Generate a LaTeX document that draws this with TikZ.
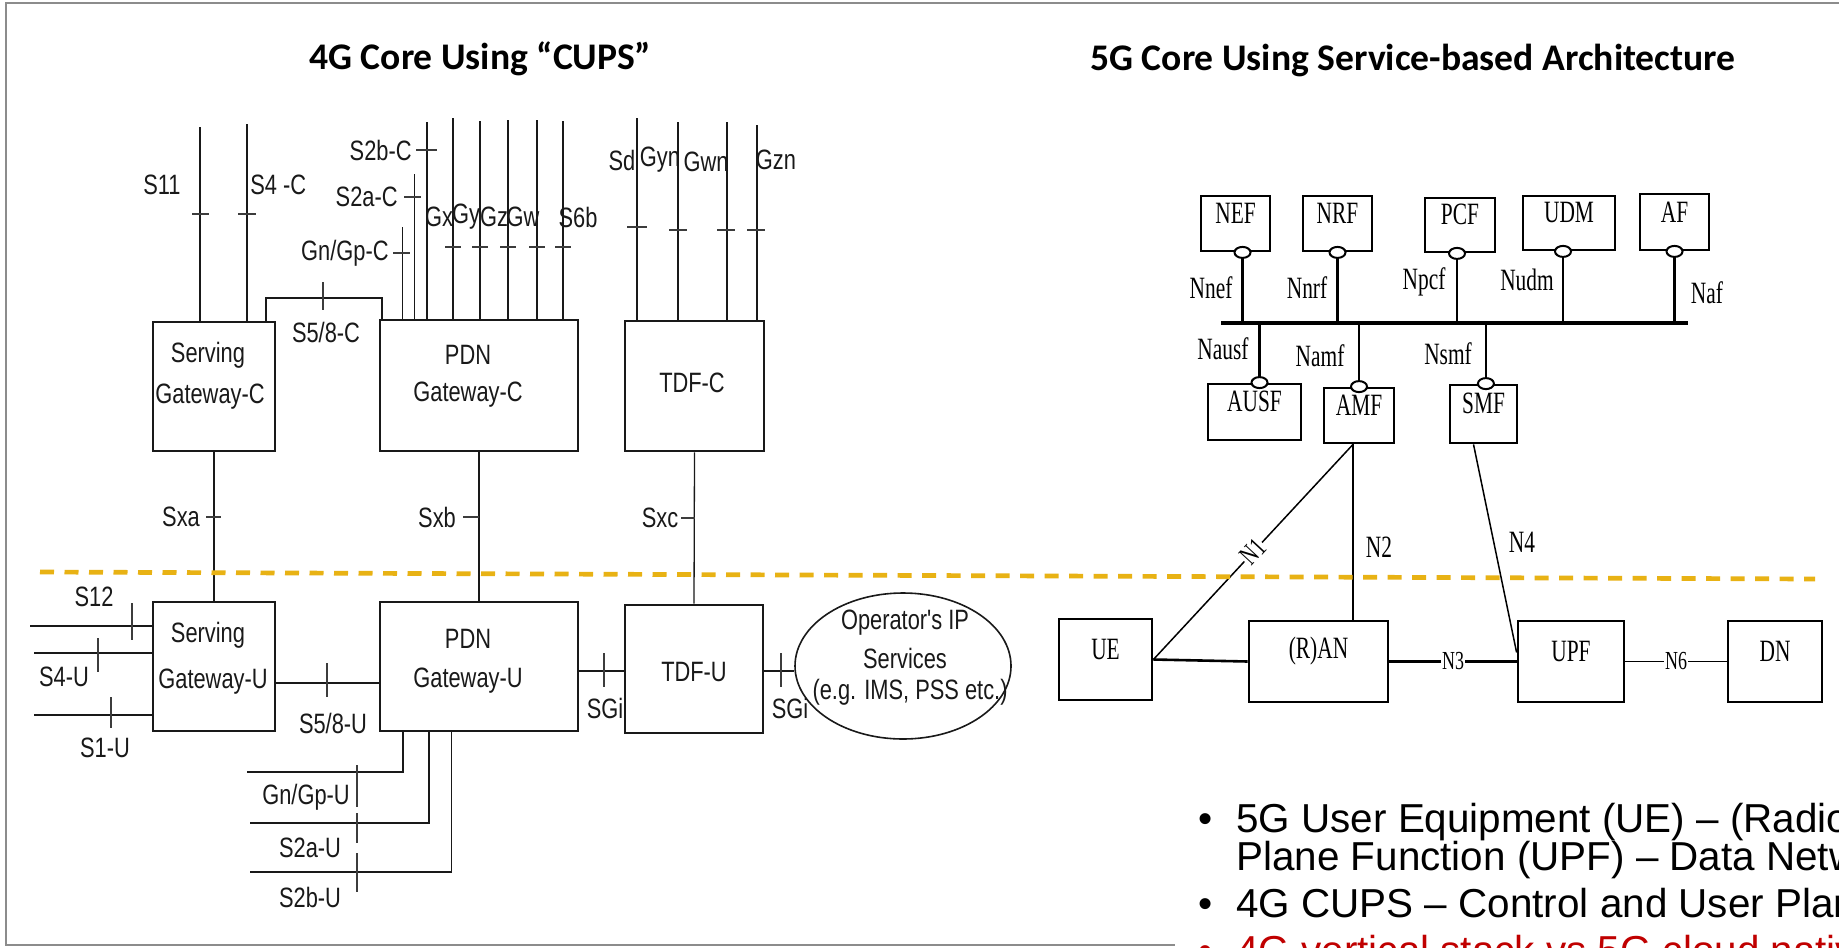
\documentclass[tikz,border=0pt]{standalone}
\usepackage{fontspec}
\setmainfont{Liberation Sans}
\newfontfamily\labfont[FakeStretch=0.78]{Liberation Sans}
\newfontfamily\timfont[FakeStretch=0.69]{Liberation Serif}
\newfontfamily\ttlfont{Carlito}
\usetikzlibrary{fit,shapes.geometric}
\definecolor{gold}{RGB}{232,178,20}
\definecolor{framec}{RGB}{140,140,140}
\definecolor{redt}{RGB}{192,0,0}
\definecolor{ink}{RGB}{25,25,25}
\begin{document}
\begin{tikzpicture}[x=0.5pt,y=-0.5pt,
  lbox/.style={draw=ink,line width=1.4pt,inner sep=0pt},
  sbox/.style={draw=black,line width=1.4pt,inner sep=0pt,font=\timfont\fontsize{15.5}{17}\selectfont},
  lab/.style={font=\labfont\fontsize{14}{16}\selectfont,inner sep=0pt,text=ink},
  tim/.style={font=\timfont\fontsize{15.5}{17}\selectfont,inner sep=0pt},
  ttl/.style={font=\ttlfont\bfseries\fontsize{18.8}{20}\selectfont,inner sep=0pt},
  bul/.style={font=\fontsize{20.2}{22}\selectfont,inner sep=0pt},
  wire/.style={draw=ink,line width=0.65pt},
  tk/.style={draw=ink!85,line width=0.65pt},
  sline/.style={draw=black,line width=1.1pt},
  bus/.style={draw=black,line width=1.6pt},
  port/.style={ellipse,draw=black,line width=1pt,fill=white,minimum width=8pt,minimum height=5.5pt,inner sep=0pt},
]
\useasboundingbox (0,0) rectangle (1839,947);
\clip (0,0) rectangle (1839,947);
\fill[white] (0,0) rectangle (1839,947);
% frame
\draw[framec,line width=1pt] (1839,3) -- (6,3) -- (6,945) -- (1175,945);
% titles
\node[ttl,anchor=base west] (t4g) at (309,70) {4G Core Using “CUPS”};
\node[ttl,anchor=base west] (t5g) at (1090,71) {5G Core Using Service-based Architecture};

% ---------------- 4G CUPS ----------------
\node[lbox,fit={(153,322)(275,451)}] (sgwc) {};
\node[lbox,fit={(380,320)(578,451)}] (pgwc) {};
\node[lbox,fit={(625,321)(764,451)}] (tdfc) {};
\node[lbox,fit={(153,602)(275,731)}] (sgwu) {};
\node[lbox,fit={(380,602)(578,731)}] (pgwu) {};
\node[lbox,fit={(625,605)(763,733)}] (tdfu) {};
\node[ellipse,draw=ink,line width=0.8pt,minimum width=108pt,minimum height=73pt,inner sep=0pt] (ops) at (903,666) {};

\node[lab] (sgwc1) at (208,355) {Serving};
\node[lab] (sgwc2) at (210,397) {Gateway-C};
\node[lab] (pgwc1) at (468,355) {PDN};
\node[lab] (pgwc2) at (468,395) {Gateway-C};
\node[lab] (tdfc1) at (692,383) {TDF-C};
\node[lab] (sgwu1) at (208,635) {Serving};
\node[lab] (sgwu2) at (213,682) {Gateway-U};
\node[lab] (pgwu1) at (468,639) {PDN};
\node[lab] (pgwu2) at (468,681) {Gateway-U};
\node[lab] (tdfu1) at (694,672) {TDF-U};
\node[lab] (ops1) at (905,623) {Operator's IP};
\node[lab] (ops2) at (905,658) {Services};
\node[lab] (ops3) at (910,692) {(e.g. IMS, PSS etc.)};

% serving gateway-C interfaces
\coordinate (s11) at (200,127);
\coordinate (s4c) at (247,124);
\draw[wire] (s11) -- (s11 |- sgwc.north);
\draw[wire] (s4c) -- (s4c |- sgwc.north);
\draw[tk] (192,214) -- (209,214);
\draw[tk] (238,214) -- (256,214);
\node[lab] (ls11) at (162,185) {S11};
\node[lab,anchor=west] (ls4c) at (250,185) {S4 -C};
\coordinate (s58a) at (266,298);
\coordinate (s58b) at (382,298);
\draw[wire] (s58a |- sgwc.north) -- (s58a) -- (s58b) -- (s58b |- pgwc.north);
\draw[tk] (323,282) -- (323,310);
\node[lab] (ls58c) at (326,332) {S5/8-C};

% PDN gateway-C interfaces
\foreach \n/\x/\t in {gnc/402.5/227,s2ac/414.5/174,s2bc/427/122,gx/453/118,gy/480/121,gz/508/120,gw/537/120,s6b/563/121}{
  \coordinate (\n) at (\x,\t);
  \draw[wire] (\n) -- (\n |- pgwc.north);
}
\draw[tk] (393,253) -- (410,253);
\draw[tk] (404,197) -- (421,197);
\draw[tk] (416,150) -- (437,150);
\foreach \x in {453,480,508,537,563} \draw[tk] (\x-8,247) -- (\x+8,247);
\node[lab,anchor=east] (ls2bc) at (412,150) {S2b-C};
\node[lab,anchor=east] (ls2ac) at (398,197) {S2a-C};
\node[lab,anchor=east] (lgnc) at (389,253) {Gn/Gp-C};
\node[lab] (lgx) at (439,217) {Gx};
\node[lab] (lgy) at (466,217) {Gy};
\node[lab] (lgz) at (494,217) {Gz};
\node[lab] (lgw) at (523,217) {Gw};
\node[lab] (ls6b) at (578,217) {S6b};

% TDF-C interfaces
\foreach \n/\x/\t in {sd/637/118,gyn/678/122,gwn/727/122,gzn/757/125}{
  \coordinate (\n) at (\x,\t);
  \draw[wire] (\n) -- (\n |- tdfc.north);
}
\draw[tk] (627,227) -- (647,227);
\draw[tk] (669,230) -- (687,230);
\draw[tk] (717,230) -- (735,230);
\draw[tk] (747,230) -- (765,230);
\node[lab] (lsd) at (622,160) {Sd};
\node[lab] (lgyn) at (660,160) {Gyn};
\node[lab] (lgwn) at (706,162) {Gwn};
\node[lab] (lgzn) at (776,160) {Gzn};

% Sx interfaces
\draw[wire] (sgwc.south) -- (sgwu.north);
\draw[wire] (pgwc.south) -- (pgwu.north);
\draw[wire] (tdfc.south) -- (tdfu.north);
\draw[tk] (206,517) -- (221,517);
\draw[tk] (463,517) -- (479,517);
\draw[tk] (681,518) -- (695,518);
\node[lab] (lsxa) at (181,517) {Sxa};
\node[lab] (lsxb) at (437,517) {Sxb};
\node[lab] (lsxc) at (660,518) {Sxc};

% serving gateway-U interfaces
\coordinate (s12) at (30,626);
\coordinate (s4u) at (34,653);
\coordinate (s1u) at (34,715);
\draw[wire] (s12) -- (s12 -| sgwu.west);
\draw[wire] (s4u) -- (s4u -| sgwu.west);
\draw[wire] (s1u) -- (s1u -| sgwu.west);
\draw[tk] (132,603) -- (132,640);
\draw[tk] (98,638) -- (98,672);
\draw[tk] (111,697) -- (111,728);
\node[lab] (ls12) at (94,597) {S12};
\node[lab] (ls4u) at (64,677) {S4-U};
\node[lab] (ls1u) at (105,748) {S1-U};
\coordinate (s58u) at (327,683);
\draw[wire] (s58u -| sgwu.east) -- (s58u -| pgwu.west);
\draw[tk] (327,663) -- (327,697);
\node[lab] (ls58u) at (333,723) {S5/8-U};

% SGi
\coordinate (sgi1) at (604,671);
\coordinate (sgi2) at (781,671);
\draw[wire] (sgi1 -| pgwu.east) -- (sgi1 -| tdfu.west);
\draw[wire] (sgi2 -| tdfu.east) -- (sgi2 -| ops.west);
\draw[tk] (604,653) -- (604,687);
\draw[tk] (781,653) -- (781,687);
\node[lab] (lsgi1) at (605,708) {SGi};
\node[lab] (lsgi2) at (790,708) {SGi};

% PDN gateway-U lower interfaces
\coordinate (gnuA) at (403,772);  \coordinate (gnuB) at (247,772);
\coordinate (s2auA) at (429,823); \coordinate (s2auB) at (250,823);
\coordinate (s2buA) at (451.5,872); \coordinate (s2buB) at (250,872);
\draw[wire] (gnuA |- pgwu.south) -- (gnuA) -- (gnuB);
\draw[wire] (s2auA |- pgwu.south) -- (s2auA) -- (s2auB);
\draw[wire] (s2buA |- pgwu.south) -- (s2buA) -- (s2buB);
\draw[tk] (357,765) -- (357,807);
\draw[tk] (357,813) -- (357,843);
\draw[tk] (357,853) -- (357,892);
\node[lab] (lgnu) at (306,797) {Gn/Gp-U};
\node[lab] (ls2au) at (310,848) {S2a-U};
\node[lab] (ls2bu) at (310,897) {S2b-U};

% ---------------- 5G SBA ----------------
\node[sbox,fit={(1201,196)(1270,251)}] (nef) {NEF};
\node[sbox,fit={(1303,196)(1372,251)}] (nrf) {NRF};
\node[sbox,fit={(1425,198)(1495,252)}] (pcf) {PCF};
\node[sbox,fit={(1523,196)(1615,250)}] (udm) {UDM};
\node[sbox,fit={(1640,194)(1709,250)}] (af) {AF};
\node[sbox,fit={(1208,384)(1301,440)}] (ausf) {AUSF};
\node[sbox,fit={(1324,388)(1394,443)}] (amf) {AMF};
\node[sbox,fit={(1450,385)(1517,443)}] (smf) {SMF};
\node[sbox,fit={(1059,619)(1152,700)}] (ue) {UE};
\node[sbox,fit={(1249,621)(1388,702)}] (ran) {(R)AN};
\node[sbox,fit={(1518,621)(1624,702)}] (upf) {UPF};
\node[sbox,fit={(1728,621)(1822,702)}] (dn) {DN};

\coordinate (busL) at (1221,323);
\coordinate (busR) at (1688,323);
\draw[bus] (busL) -- (busR);

\coordinate (pnef) at ([xshift=3.5pt]nef.south);
\coordinate (pnrf) at (nrf.south);
\coordinate (ppcf) at ([xshift=-1.5pt]pcf.south);
\coordinate (pudm) at ([xshift=-3pt]udm.south);
\coordinate (paf) at (af.south);
\coordinate (pausf) at ([xshift=2.5pt]ausf.north);
\coordinate (pamf) at (amf.north);
\coordinate (psmf) at ([xshift=1.2pt]smf.north);
\foreach \p in {pnef,pnrf,ppcf,pudm,paf,pausf,pamf,psmf} \draw[sline] (\p) -- (\p |- busL);
\foreach \p in {pnef,pnrf,ppcf,pudm,paf,pausf,pamf,psmf} \node[port] at (\p) {};

\node[tim] (lnnef) at (1211,288) {Nnef};
\node[tim] (lnnrf) at (1307,288) {Nnrf};
\node[tim] (lnpcf) at (1424,282) {Npcf};
\node[tim] (lnudm) at (1527,280) {Nudm};
\node[tim] (lnaf) at (1707,293) {Naf};
\node[tim] (lnausf) at (1223,349) {Nausf};
\node[tim] (lnamf) at (1320,356) {Namf};
\node[tim] (lnsmf) at (1448,354) {Nsmf};

% reference points
\draw[draw=black,line width=0.75pt] (ue.east) -- node[midway,sloped,fill=white,inner sep=0.5pt,font=\timfont\fontsize{14}{16}\selectfont]{N1} ([xshift=-3pt]amf.south);
\draw[draw=black,line width=0.75pt] ([xshift=-3pt]amf.south) -- ([xshift=-3pt]amf.south |- ran.north);
\node[tim] (ln2) at (1379,547) {N2};
\draw[draw=black,line width=0.75pt] ([xshift=-5pt]smf.south) -- ([yshift=4.5pt]upf.west);
\node[tim] (ln4) at (1522,542) {N4};
\draw[draw=black,line width=1.3pt] (ue.east) -- (ran.west);
\draw[draw=black,line width=1.3pt] (ran.east) -- node[fill=white,inner sep=0.5pt,font=\timfont\fontsize{13}{15}\selectfont]{N3} (upf.west);
\draw[draw=black,line width=0.7pt] (upf.east) -- node[fill=white,inner sep=0.5pt,font=\timfont\fontsize{13}{15}\selectfont]{N6} (dn.west);

% control / user plane divider
\draw[gold,line width=2.35pt,dash pattern=on 7pt off 5.25pt] (40,572) -- (1815,579);

% bullets
\node[bul,anchor=base] (d1) at (1206,832) {•};
\node[bul,anchor=base west] (b1a) at (1236,832) {5G User Equipment (UE) – (Radio) Access Network ((R)AN) – User};
\node[bul,anchor=base west] (b1b) at (1236,870) {Plane Function (UPF) – Data Network (DN)};
\node[bul,anchor=base] (d2) at (1206,917) {•};
\node[bul,anchor=base west] (b2) at (1236,917) {4G CUPS – Control and User Plane Separation};
\node[bul,anchor=base,text=redt] (d3) at (1206,964) {•};
\node[bul,anchor=base west,text=redt] (b3) at (1236,964) {4G vertical stack vs 5G cloud native};
\end{tikzpicture}
\end{document}
